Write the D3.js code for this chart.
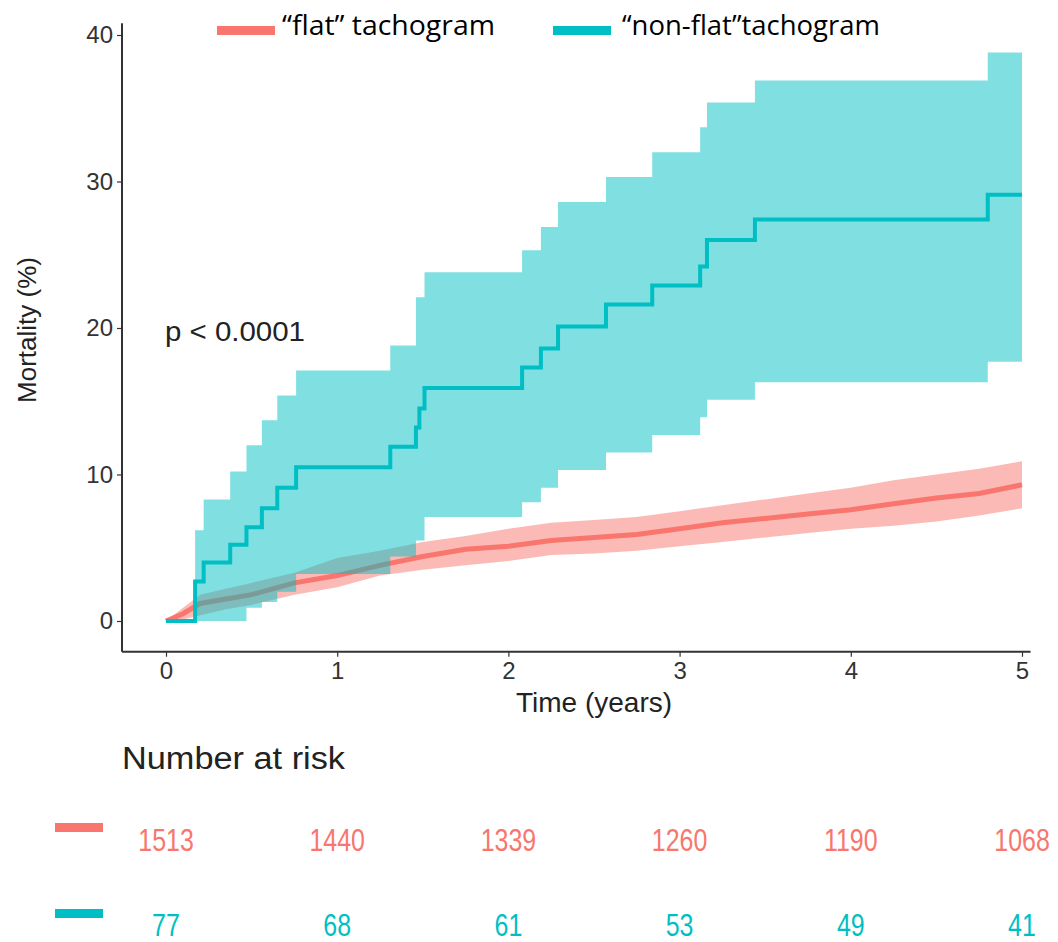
<!DOCTYPE html>
<html>
<head>
<meta charset="utf-8">
<script src="https://cdn.jsdelivr.net/npm/d3@7"></script>
<style>
  body { margin: 0; background: #fff; }
  svg { display: block; }
  .axis text { font-family: "Liberation Sans", Arial, sans-serif; fill: #333; }
</style>
</head>
<body>
<div id="chart"></div>
<script>
// "flat" tachogram
var flatTime  = [0, 0.1, 0.2, 0.35, 0.5, 0.75, 1, 1.25, 1.5, 1.75, 2, 2.25, 2.5, 2.75, 3, 3.25, 3.5, 3.75, 4, 4.25, 4.5, 4.75, 5];
var flatEst   = [0, 0.5, 1.2, 1.5, 1.8, 2.6, 3.1, 3.8, 4.4, 4.9, 5.1, 5.5, 5.7, 5.9, 6.3, 6.7, 7.0, 7.3, 7.6, 8.0, 8.4, 8.7, 9.3];
var flatLower = [0, 0.1, 0.4, 0.8, 1.1, 1.8, 2.3, 3.1, 3.5, 3.8, 4.1, 4.5, 4.6, 4.8, 5.1, 5.4, 5.7, 6.0, 6.3, 6.5, 6.8, 7.2, 7.7];
var flatUpper = [0, 0.9, 1.8, 2.2, 2.6, 3.3, 4.3, 4.8, 5.4, 5.8, 6.3, 6.7, 6.9, 7.1, 7.5, 7.9, 8.3, 8.7, 9.1, 9.6, 10.0, 10.4, 10.9];

// "non-flat" tachogram, step changes
var nonFlatTime  = [0, 0.17, 0.22, 0.375, 0.47, 0.56, 0.65, 0.76, 1.31, 1.46, 1.48, 1.51, 2.08, 2.19, 2.29, 2.57, 2.84, 3.12, 3.16, 3.44, 4.80, 5];
var nonFlatEst   = [0, 2.7, 4.0, 5.2, 6.4, 7.7, 9.1, 10.5, 11.9, 13.2, 14.5, 15.9, 17.3, 18.6, 20.1, 21.6, 22.9, 24.2, 26.0, 27.4, 29.1, 29.1];
var nonFlatLower = [0, 0, 0, 0, 0.9, 1.3, 2.0, 3.2, 4.4, 5.5, 5.5, 7.1, 8.1, 9.1, 10.3, 11.5, 12.7, 13.9, 15.1, 16.3, 17.7, 17.7];
var nonFlatUpper = [0, 6.2, 8.3, 10.2, 12.0, 13.7, 15.4, 17.1, 18.8, 22.1, 22.1, 23.8, 25.3, 26.9, 28.6, 30.3, 32.0, 33.7, 35.4, 36.9, 38.8, 38.8];

// number at risk
var riskTimes   = [0, 1, 2, 3, 4, 5];
var riskFlat    = [1513, 1440, 1339, 1260, 1190, 1068];
var riskNonFlat = [77, 68, 61, 53, 49, 41];

var yTicks = [0, 10, 20, 30, 40];
var xTicks = [0, 1, 2, 3, 4, 5];

var red = "#F8766D", teal = "#00BFC4";

var width = 1058, height = 942;

var svg = d3.select("#chart").append("svg")
  .attr("width", width)
  .attr("height", height);

var x = d3.scaleLinear().domain([0, 5]).range([166, 1022]);
var y = d3.scaleLinear().domain([0, 40]).range([621, 35]);

// panel limits (ggplot expands a bit)
var xMin = -0.257, xMax = 5.05, yMin = -2.1, yMax = 40.8;

function rows(t, a, b) {
  return t.map(function (d, i) { return { t: d, a: a[i], b: b ? b[i] : null }; });
}

// bands
var bandStep = d3.area()
  .curve(d3.curveStepAfter)
  .x(function (d) { return x(d.t); })
  .y0(function (d) { return y(d.a); })
  .y1(function (d) { return y(d.b); });
var bandLin = d3.area()
  .x(function (d) { return x(d.t); })
  .y0(function (d) { return y(d.a); })
  .y1(function (d) { return y(d.b); });

var lineStep = d3.line().curve(d3.curveStepAfter)
  .x(function (d) { return x(d.t); })
  .y(function (d) { return y(d.a); });
var lineLin = d3.line()
  .x(function (d) { return x(d.t); })
  .y(function (d) { return y(d.a); });

svg.append("path")
  .attr("d", bandLin(rows(flatTime, flatLower, flatUpper)))
  .attr("fill", red).attr("fill-opacity", 0.5);

svg.append("path")
  .attr("d", lineLin(rows(flatTime, flatEst)))
  .attr("fill", "none").attr("stroke", red).attr("stroke-width", 5);

svg.append("path")
  .attr("d", bandStep(rows(nonFlatTime, nonFlatLower, nonFlatUpper)))
  .attr("fill", teal).attr("fill-opacity", 0.5);

svg.append("path")
  .attr("d", lineStep(rows(nonFlatTime, nonFlatEst)))
  .attr("fill", "none").attr("stroke", teal).attr("stroke-width", 4);

// axes
var yAxis = svg.append("g")
  .attr("class", "axis")
  .attr("transform", "translate(122,0)")
  .call(d3.axisLeft(y).tickValues(yTicks).tickSize(5).tickPadding(4));
yAxis.select(".domain").remove();
yAxis.selectAll("line").attr("stroke", "#333").attr("stroke-width", 1.2);
yAxis.selectAll("text").style("font-size", "24px");
yAxis.append("line")
  .attr("x1", 0).attr("x2", 0)
  .attr("y1", y(yMax)).attr("y2", y(yMin))
  .attr("stroke", "#333").attr("stroke-width", 2);

var xAxis = svg.append("g")
  .attr("class", "axis")
  .attr("transform", "translate(0," + y(yMin) + ")")
  .call(d3.axisBottom(x).tickValues(xTicks).tickFormat(d3.format("d")).tickSize(5).tickPadding(5));
xAxis.select(".domain").remove();
xAxis.selectAll("line").attr("stroke", "#333").attr("stroke-width", 1.2);
xAxis.selectAll("text").style("font-size", "24px");
xAxis.append("line")
  .attr("x1", x(xMin)).attr("x2", x(xMax))
  .attr("y1", 0).attr("y2", 0)
  .attr("stroke", "#333").attr("stroke-width", 2);

var sans = "'Liberation Sans', Arial, sans-serif";

svg.append("text")
  .attr("x", x(2.5)).attr("y", 712)
  .attr("text-anchor", "middle")
  .style("font-family", sans).style("font-size", "28px").style("fill", "#222")
  .text("Time (years)");

svg.append("text")
  .attr("transform", "translate(36,330) rotate(-90)")
  .attr("text-anchor", "middle")
  .style("font-family", sans).style("font-size", "26px").style("fill", "#222")
  .text("Mortality (%)");

svg.append("text")
  .attr("x", 165).attr("y", 341)
  .attr("textLength", 140).attr("lengthAdjust", "spacingAndGlyphs")
  .style("font-family", sans).style("font-size", "27px").style("fill", "#222")
  .text("p < 0.0001");

// legend
var legend = [
  { label: "\u201Cflat\u201D tachogram", color: red, rx: 217, tx: 282, len: 213 },
  { label: "\u201Cnon-flat\u201Dtachogram", color: teal, rx: 553, tx: 622, len: 258 }
];
legend.forEach(function (d) {
  svg.append("rect")
    .attr("x", d.rx).attr("y", 26).attr("width", 58).attr("height", 9)
    .attr("fill", d.color);
  svg.append("text")
    .attr("x", d.tx).attr("y", 35)
    .attr("textLength", d.len).attr("lengthAdjust", "spacingAndGlyphs")
    .style("font-family", "'Open Sans', sans-serif").style("font-size", "27px").style("fill", "#000")
    .text(d.label);
});

// number at risk table
svg.append("text")
  .attr("x", 122).attr("y", 769)
  .attr("textLength", 223).attr("lengthAdjust", "spacingAndGlyphs")
  .style("font-family", sans).style("font-size", "31px").style("fill", "#222")
  .text("Number at risk");

var riskRows = [
  { values: riskFlat, color: red, ty: 851, ry: 823 },
  { values: riskNonFlat, color: teal, ty: 936, ry: 909 }
];
riskRows.forEach(function (r) {
  svg.append("rect")
    .attr("x", 55).attr("y", r.ry).attr("width", 48).attr("height", 9)
    .attr("fill", r.color);
  svg.selectAll(null)
    .data(riskTimes)
    .enter()
    .append("text")
    .attr("transform", function (d) { return "translate(" + x(d) + "," + r.ty + ") scale(0.78,1)"; })
    .attr("text-anchor", "middle")
    .style("font-family", sans).style("font-size", "32px").style("fill", r.color)
    .text(function (d, i) { return r.values[i]; });
});
</script>
</body>
</html>
